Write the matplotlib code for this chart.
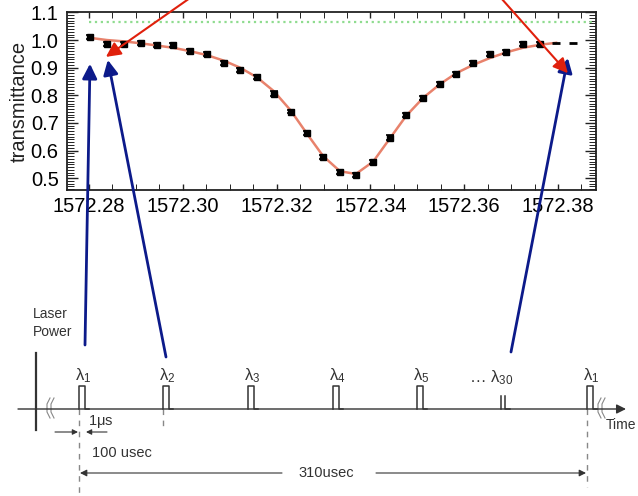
import numpy as np
import matplotlib
matplotlib.use('Agg')
import matplotlib.pyplot as plt
from matplotlib.ticker import MultipleLocator

plt.rcParams['font.family'] = ['Liberation Sans', 'DejaVu Sans']
plt.rcParams['mathtext.default'] = 'regular'

# measured scan (nm) and transmittance
wavelength = [1572.2802, 1572.2838, 1572.2875, 1572.2911, 1572.2945, 1572.2979,
              1572.3015, 1572.3052, 1572.3088, 1572.3122, 1572.3158, 1572.3194,
              1572.3230, 1572.3265, 1572.3299, 1572.3335, 1572.3369, 1572.3406,
              1572.3442, 1572.3476, 1572.3512, 1572.3548, 1572.3583, 1572.3619,
              1572.3655, 1572.3689, 1572.3725, 1572.3762, 1572.3796, 1572.3832]
trans = [1.011, 0.986, 0.986, 0.990, 0.982, 0.982, 0.960, 0.950, 0.917, 0.892,
         0.867, 0.806, 0.741, 0.662, 0.576, 0.522, 0.511, 0.558, 0.647, 0.727,
         0.791, 0.842, 0.878, 0.917, 0.950, 0.957, 0.986, 0.986, 0.990, 0.990]
trans_err = [0.007, 0.008, 0.007, 0.008, 0.008, 0.007, 0.007, 0.008, 0.007, 0.007,
             0.008, 0.008, 0.007, 0.007, 0.007, 0.008, 0.008, 0.007, 0.008, 0.007,
             0.007, 0.007, 0.008, 0.007, 0.007, 0.008, 0.007, 0.007, 0.0, 0.0]
# fitted curve (read at the same wavelengths, stops at 1572.38)
fit = [1.008, 1.000, 0.995, 0.988, 0.980, 0.972, 0.960, 0.945, 0.925, 0.900,
       0.865, 0.815, 0.745, 0.660, 0.580, 0.525, 0.515, 0.560, 0.645, 0.725,
       0.790, 0.840, 0.880, 0.910, 0.935, 0.955, 0.972, 0.983, 0.990]
ref_x = [1572.2800, 1572.3880]
ref_level = [1.066, 1.066]

# pulse train labels
pulse_labels = [r'λ$_1$', r'λ$_2$', r'λ$_3$', r'λ$_4$', r'λ$_5$', r'λ$_1$']

W, H = 638, 496
fig = plt.figure(figsize=(W / 100, H / 100), dpi=100)
ax = fig.add_axes([67 / W, 1 - 190 / H, 529 / W, 178 / H])

ax.plot(ref_x, ref_level, ':', color='#8fdc8f', lw=1.6)
ax.plot(wavelength[:len(fit)], fit, color='#e8826c', lw=1.8, zorder=2)
n = 28
ax.errorbar(wavelength[:n], trans[:n], yerr=trans_err[:n], fmt='s', ms=4,
            color='k', ecolor='k', elinewidth=1.2, capsize=3, capthick=1.2, zorder=3)
ax.plot(wavelength[n:], trans[n:], '_', color='k', ms=6, mew=2, zorder=3)

ax.set_xlim(1572.2753, 1572.3881)
ax.set_ylim(0.457, 1.1015)
ax.xaxis.set_major_locator(MultipleLocator(0.02))
ax.xaxis.set_minor_locator(MultipleLocator(0.005))
ax.yaxis.set_major_locator(MultipleLocator(0.1))
ax.yaxis.set_minor_locator(MultipleLocator(0.01))
ax.xaxis.set_major_formatter(plt.FormatStrFormatter('%.2f'))
ax.yaxis.set_major_formatter(plt.FormatStrFormatter('%.1f'))
ax.tick_params(which='both', direction='in', top=True, right=True, labelsize=14.5, color='#222')
ax.tick_params(which='major', length=8, width=1)
ax.tick_params(which='minor', length=5, width=0.7)
ax.tick_params(axis='x', which='both', length=4, pad=5)
ax.tick_params(axis='y', which='major', pad=6)
for s in ax.spines.values():
    s.set_linewidth(1.3)
    s.set_color('#222')
fig.text(19 / W, 1 - 101 / H, 'transmittance', rotation=90, ha='center', va='center',
         fontsize=14.5, color='#222')

# overlay in pixel coordinates for the timing diagram
ov = fig.add_axes([0, 0, 1, 1], zorder=5)
ov.set_xlim(0, W)
ov.set_ylim(H, 0)
ov.axis('off')
ov.patch.set_alpha(0)

gray = '#333333'
base = 409
ov.annotate('', xy=(626, base), xytext=(18, base),
            arrowprops=dict(arrowstyle='-|>', lw=1, color=gray, mutation_scale=14, shrinkA=0, shrinkB=0))
ov.plot([36, 36], [353, 430], color=gray, lw=1.6)
for bx in (48, 52, 599, 603):
    ov.plot([bx + 2, bx - 1, bx - 1, bx + 2], [398, 404, 412, 418], color='#888', lw=0.8)

pulse_x = [79, 163, 248, 333, 417, 587]
for px, lab in zip(pulse_x, pulse_labels):
    ov.plot([px, px, px + 6, px + 6, px + 10], [base, 386, 386, base, base], color=gray, lw=1.1)
    ov.text(px + 4, 376, lab, ha='center', va='center', fontsize=12, color=gray)
ov.plot([501, 501], [base, 396], color=gray, lw=1.1)
ov.plot([505, 505, 510], [396, base, base], color=gray, lw=1.1)
ov.text(469, 378, r'… λ$_{30}$', ha='left', va='center', fontsize=12, color=gray)

ov.text(33, 323, 'Laser\nPower', ha='left', va='center', fontsize=10, color=gray, linespacing=1.45)
ov.text(606, 425, 'Time', ha='left', va='center', fontsize=10, color=gray)

for dx, y1 in ((79, 495), (163, 430), (587, 487)):
    ov.plot([dx, dx], [base, y1], color='#888', lw=1, ls=(0, (4, 4)))

ov.text(88, 422, r'1$\mu$s', ha='left', va='center', fontsize=10.5, color=gray)
ov.annotate('', xy=(78, 432), xytext=(55, 432),
            arrowprops=dict(arrowstyle='-|>', lw=0.8, color=gray, mutation_scale=8, shrinkA=0, shrinkB=0))
ov.annotate('', xy=(86, 432), xytext=(107, 432),
            arrowprops=dict(arrowstyle='-|>', lw=0.8, color=gray, mutation_scale=8, shrinkA=0, shrinkB=0))
ov.text(92, 453, '100 usec', ha='left', va='center', fontsize=10.5, color=gray)
ov.annotate('', xy=(80, 473), xytext=(282, 473),
            arrowprops=dict(arrowstyle='-|>', lw=0.8, color=gray, mutation_scale=10, shrinkA=0, shrinkB=0))
ov.annotate('', xy=(586, 473), xytext=(376, 473),
            arrowprops=dict(arrowstyle='-|>', lw=0.8, color=gray, mutation_scale=10, shrinkA=0, shrinkB=0))
ov.text(298, 473, '310usec', ha='left', va='center', fontsize=10.5, color=gray)

# arrows linking pulses to scan points
blue = '#0c1a8a'
red = '#e0200c'
for tip, start in (((1572.2802, 0.914), (85, 345)),
                   ((1572.2840, 0.928), (166, 357)),
                   ((1572.3821, 0.935), (511, 352))):
    ov.annotate('', xy=tip, xycoords=ax.transData, xytext=start, textcoords=ov.transData,
                arrowprops=dict(arrowstyle='-|>', lw=2, color=blue, mutation_scale=22,
                                shrinkA=0, shrinkB=0), annotation_clip=False)
for tip, start in (((1572.2836, 0.939), (190, -2)),
                   ((1572.3821, 0.880), (501, -2))):
    ov.annotate('', xy=tip, xycoords=ax.transData, xytext=start, textcoords=ov.transData,
                arrowprops=dict(arrowstyle='-|>', lw=1.5, color=red, mutation_scale=22,
                                shrinkA=0, shrinkB=0), annotation_clip=False)

fig.savefig('out.png', dpi=100)
